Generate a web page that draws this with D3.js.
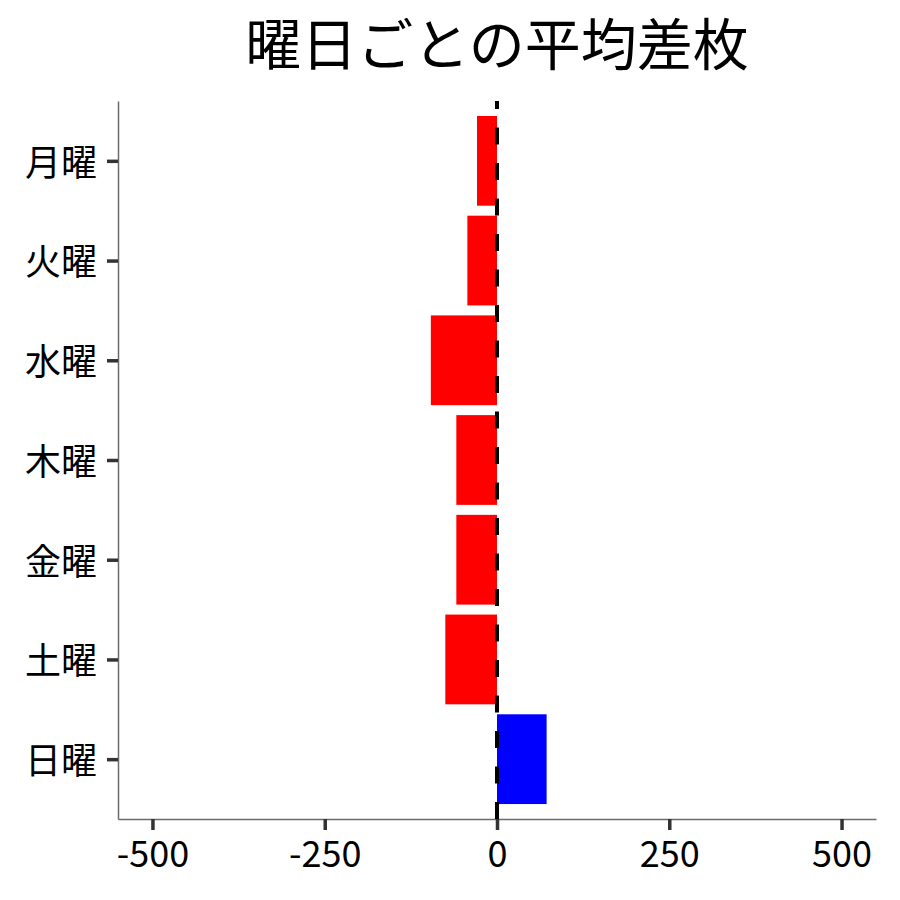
<!DOCTYPE html>
<html>
<head>
<meta charset="utf-8">
<script src="https://cdn.jsdelivr.net/npm/d3@7"></script>
<style>
  body { margin: 0; background: #fff; }
  text { font-family: "Noto Sans CJK JP", "Noto Sans", sans-serif; }
</style>
</head>
<body>
<div id="chart"></div>
<script>
const days = ['月曜', '火曜', '水曜', '木曜', '金曜', '土曜', '日曜'];
const avgDiff = [-29, -43, -96, -59, -59, -75, 72];
const xTicks = [-500, -250, 0, 250, 500];
const title = '曜日ごとの平均差枚';

const data = days.map((d, i) => ({ day: d, value: avgDiff[i] }));

const W = 900, H = 900;
const margin = { top: 101, right: 24, bottom: 81, left: 118 };
const width = W - margin.left - margin.right;
const height = H - margin.top - margin.bottom;

const svg = d3.select('#chart').append('svg')
  .attr('width', W)
  .attr('height', H);

const g = svg.append('g')
  .attr('transform', `translate(${margin.left},${margin.top})`);

const x = d3.scaleLinear().domain([-550, 550]).range([0, width]);
const y = d3.scalePoint().domain(days).range([0, height]).padding(0.6);
const barH = y.step() * 0.9;

// bars
g.selectAll('rect.bar')
  .data(data)
  .enter()
  .append('rect')
  .attr('class', 'bar')
  .attr('x', d => x(Math.min(0, d.value)))
  .attr('width', d => Math.abs(x(d.value) - x(0)))
  .attr('y', d => y(d.day) - barH / 2)
  .attr('height', barH)
  .attr('fill', d => d.value < 0 ? '#ff0000' : '#0000ff');

// x axis
const xAxis = g.append('g')
  .attr('transform', `translate(0,${height})`)
  .call(d3.axisBottom(x).tickValues(xTicks).tickFormat(d => String(d))
    .tickSize(11).tickPadding(0).tickSizeOuter(0));
xAxis.select('.domain').attr('stroke', '#6b6b6b').attr('stroke-width', 1.5);
xAxis.selectAll('.tick line').attr('stroke', '#333').attr('stroke-width', 3.5);
xAxis.selectAll('.tick text')
  .attr('y', 48)
  .attr('dy', 0)
  .attr('fill', '#000')
  .style('font-size', '36px');

// y axis
const yAxis = g.append('g')
  .call(d3.axisLeft(y).tickSize(11).tickPadding(10).tickSizeOuter(0));
yAxis.select('.domain').attr('stroke', '#6b6b6b').attr('stroke-width', 1.5);
yAxis.selectAll('.tick line').attr('stroke', '#333').attr('stroke-width', 3.5);
yAxis.selectAll('.tick text')
  .attr('dy', '0.4em')
  .attr('fill', '#000')
  .style('font-size', '36px');

// zero reference line, drawn bottom to top so the dashes start at the axis
g.append('line')
  .attr('x1', x(0))
  .attr('x2', x(0))
  .attr('y1', height)
  .attr('y2', 0)
  .attr('stroke', '#000')
  .attr('stroke-width', 4)
  .attr('stroke-dasharray', '17,18.5');

// title
svg.append('text')
  .attr('x', margin.left + width / 2)
  .attr('y', 65)
  .attr('text-anchor', 'middle')
  .style('font-size', '56px')
  .attr('fill', '#000')
  .text(title);
</script>
</body>
</html>
